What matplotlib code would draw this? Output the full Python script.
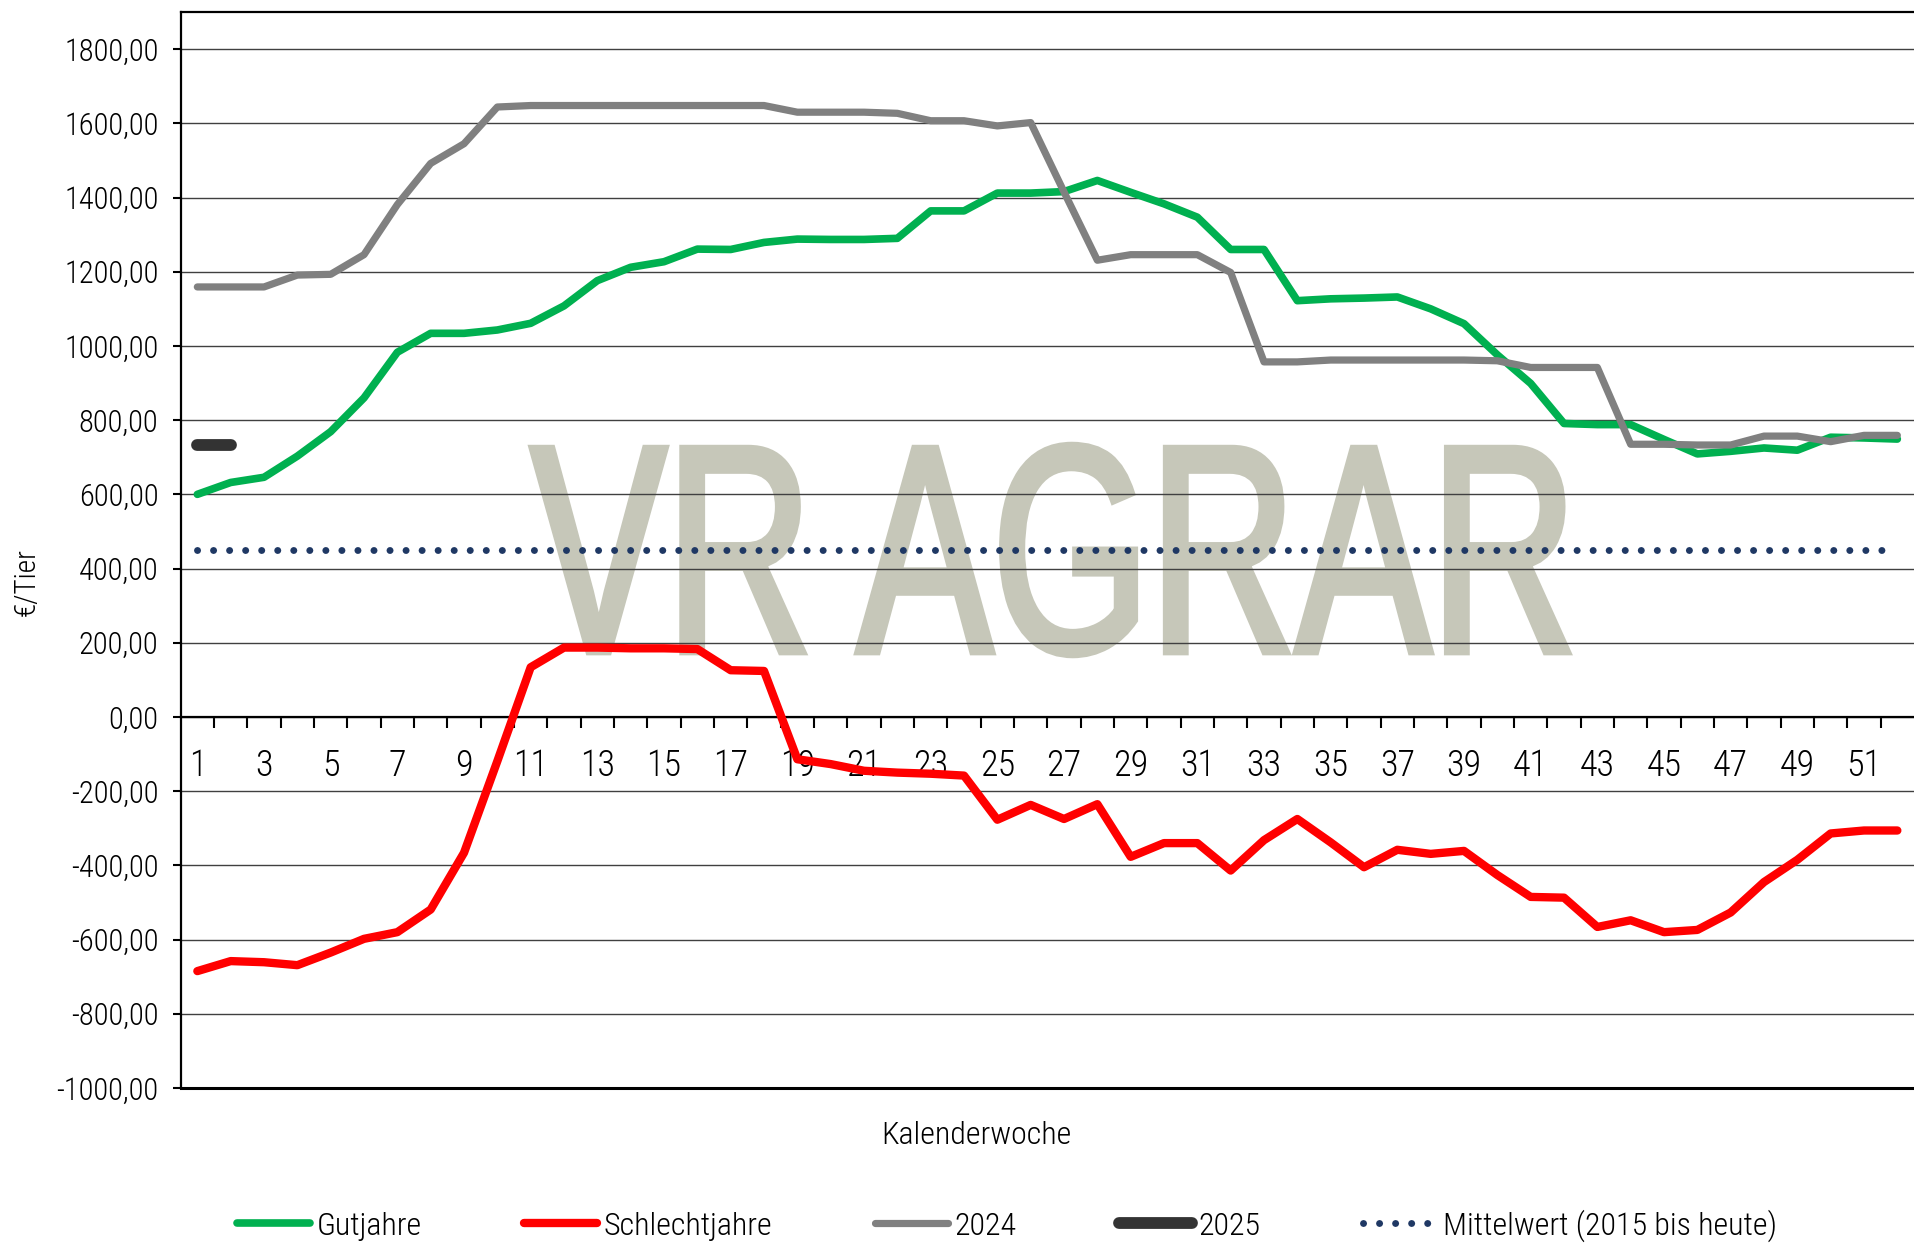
import numpy as np
import matplotlib
matplotlib.use("Agg")
import matplotlib.pyplot as plt
from matplotlib.textpath import TextPath
from matplotlib.patches import PathPatch
from matplotlib.font_manager import FontProperties, fontManager
from matplotlib.transforms import Affine2D
from matplotlib.ticker import FuncFormatter, FixedLocator

# Kalenderwochen und Werte (EUR/Tier)
weeks = np.arange(1, 53)
gutjahre = [600, 632, 646, 703, 769, 860, 983, 1034, 1034, 1043, 1061, 1108, 1176,
            1212, 1227, 1261, 1260, 1279, 1288, 1287, 1287, 1290, 1364, 1364, 1412,
            1412, 1416, 1446, 1414, 1383, 1347, 1260, 1260, 1122, 1127, 1129, 1132,
            1100, 1060, 976, 899, 791, 788, 788, 748, 709, 716, 725, 719, 754, 752, 749]
schlechtjahre = [-685, -658, -661, -669, -635, -598, -580, -519, -366, -119, 134, 187,
                 187, 185, 185, 183, 126, 124, -114, -127, -145, -150, -153, -158,
                 -277, -237, -275, -235, -377, -340, -340, -414, -332, -275, -338,
                 -405, -358, -369, -361, -426, -485, -487, -566, -548, -580, -574,
                 -527, -445, -385, -314, -306, -306]
j2024 = [1159, 1159, 1159, 1191, 1193, 1246, 1381, 1492, 1545, 1644, 1648, 1648,
         1648, 1648, 1648, 1648, 1648, 1648, 1630, 1630, 1630, 1627, 1607, 1607,
         1593, 1602, 1415, 1231, 1246, 1246, 1246, 1198, 957, 957, 962, 962, 962,
         962, 962, 960, 942, 942, 942, 735, 735, 733, 733, 757, 757, 742, 759, 759]
weeks_2025 = [1, 2]
j2025 = [732, 732]
mittelwert = [450] * 52

names = {f.name for f in fontManager.ttflist}
font = "Roboto"
for cand in ["Roboto Condensed", "Archivo Narrow", "PT Sans Narrow", "Encode Sans Condensed",
             "Fira Sans Condensed", "Barlow Semi Condensed"]:
    if cand in names:
        font = cand
        break
plt.rcParams["font.family"] = [font, "DejaVu Sans"]
plt.rcParams["font.weight"] = "light"

fig = plt.figure(figsize=(19.14, 12.52), dpi=100)
ax = fig.add_axes([0.0944, 0.131, 0.9056, 0.8594])

# Wasserzeichen
tp = TextPath((0, 0), "VR AGRAR", size=100, prop=FontProperties(family="Liberation Sans"))
ext = tp.get_extents()
x0, x1, yb, yt = 0.2780, 0.8190, 0.4770, 0.6444
tr = Affine2D().translate(-ext.x0, -ext.y0).scale((x1 - x0) / ext.width, (yt - yb) / ext.height).translate(x0, yb)
wm = PathPatch(tp, transform=tr + fig.transFigure, facecolor="#C6C7B9", edgecolor="#C6C7B9",
               lw=5, joinstyle="miter", zorder=0.2)
ax.add_artist(wm)

ax.plot(weeks, gutjahre, color="#00B050", lw=5.5, solid_capstyle="round", solid_joinstyle="round",
        label="Gutjahre", zorder=3)
ax.plot(weeks, schlechtjahre, color="#FF0000", lw=6.0, solid_capstyle="round", solid_joinstyle="round",
        label="Schlechtjahre", zorder=3)
ax.plot(weeks, j2024, color="#808080", lw=5.2, solid_capstyle="round", solid_joinstyle="round",
        label="2024", zorder=3)
ax.plot(weeks_2025, j2025, color="#333333", lw=8.5, solid_capstyle="round",
        label="2025", zorder=4)
ax.plot(weeks, mittelwert, color="#1F3864", lw=5.0, linestyle=(0, (0.01, 2.3)),
        dash_capstyle="round", label="Mittelwert (2015 bis heute)", zorder=3)

ax.set_xlim(0.5, 52.5)
ax.set_ylim(-1000, 1900)

ax.yaxis.set_major_locator(FixedLocator(np.arange(-1000, 1801, 200)))
ax.yaxis.set_major_formatter(FuncFormatter(lambda v, p: f"{v:.2f}".replace(".", ",")))
ax.tick_params(axis="y", direction="out", length=6, width=1.5, pad=10, labelsize=22)

ax.xaxis.set_major_locator(FixedLocator(np.arange(1, 52, 2)))
ax.xaxis.set_minor_locator(FixedLocator(np.arange(1.5, 52, 1)))
ax.tick_params(axis="x", which="major", length=0, pad=22, labelsize=26)
ax.tick_params(axis="x", which="minor", direction="out", length=8, width=1.5)

ax.grid(axis="y", color="#404040", lw=1)
ax.set_axisbelow(True)

ax.spines["bottom"].set_position(("data", 0))
ax.spines["bottom"].set_linewidth(1.6)
ax.spines["left"].set_linewidth(1.6)
ax.spines["top"].set_linewidth(1.6)
ax.spines["right"].set_visible(False)
ax.axhline(-1000, color="black", lw=2.2, clip_on=False, zorder=5)

fig.text(0.510, 0.0934, "Kalenderwoche", ha="center", va="center", fontsize=23)
fig.text(0.0141, 0.535, "€/Tier", rotation=90, ha="center", va="center", fontsize=21)

fig.legend(loc="center", bbox_to_anchor=(0.526, 0.021), ncol=5, frameon=False, fontsize=23,
           handlelength=2.3, handletextpad=0.2, columnspacing=3.2)

fig.savefig("out.png", dpi=100)
